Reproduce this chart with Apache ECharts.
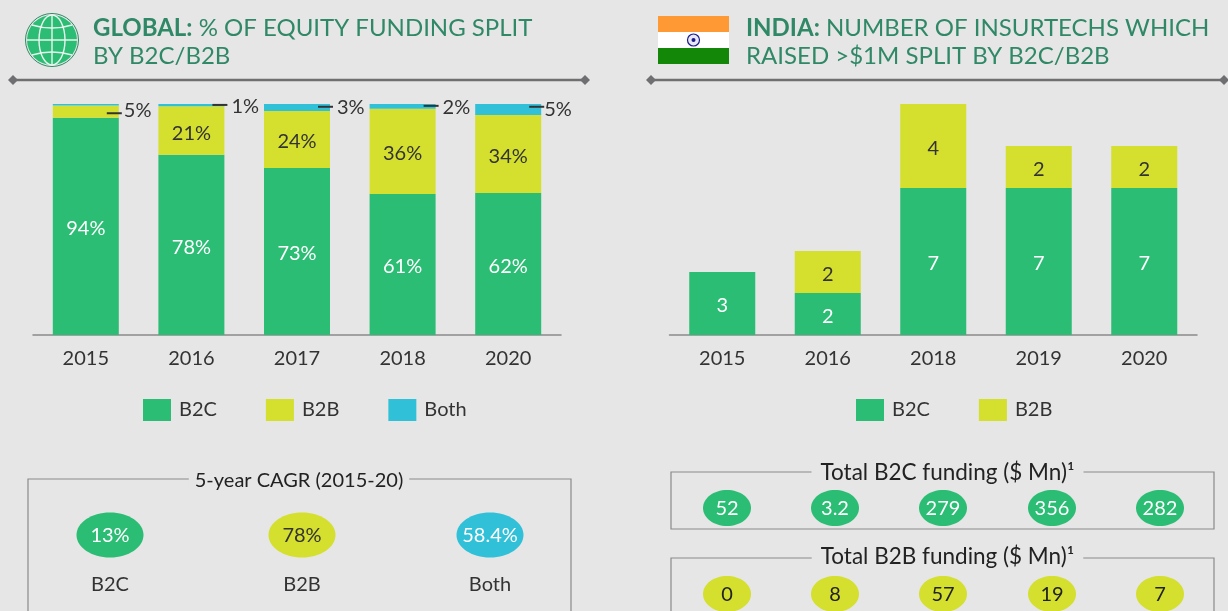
<!DOCTYPE html>
<html>
<head>
<meta charset="utf-8">
<title>Insurtech funding split</title>
<style>
html,body{margin:0;padding:0;background:#e6e6e6;}
#main{width:1228px;height:611px;}
</style>
<script src="https://cdn.jsdelivr.net/npm/echarts@6/dist/echarts.min.js"></script>
</head>
<body>
<div id="main"></div>
<script>
var GREEN = '#2bbd74', YELLOW = '#d4df2e', CYAN = '#30c1d9', DARK = '#333333', TITLE = '#2f8866', FONT = 'Lato';

// left chart
var globalYears = ['2015', '2016', '2017', '2018', '2020'];
var globalB2C = [94, 78, 72.3, 61, 61.5];
var globalB2B = [5.3, 21, 24.7, 36.9, 33.7];
var globalBoth = [0.7, 1, 3, 2.1, 4.8];
var globalB2CLabels = ['94%', '78%', '73%', '61%', '62%'];
var globalB2BLabels = ['', '21%', '24%', '36%', '34%'];
var calloutLabels = ['5%', '1%', '3%', '2%', '5%'];
var calloutLevels = [96, 99.6, 98.8, 99.2, 98.8];

// right chart
var indiaYears = ['2015', '2016', '2018', '2019', '2020'];
var indiaB2C = [3, 2, 7, 7, 7];
var indiaB2B = [0, 2, 4, 2, 2];

// bottom panels
var cagrNames = ['B2C', 'B2B', 'Both'];
var cagrValues = ['13%', '78%', '58.4%'];
var b2cFunding = ['52', '3.2', '279', '356', '282'];
var b2bFunding = ['0', '8', '57', '19', '7'];

function barLabel(color) {
  return { show: true, position: 'inside', offset: [0, 2.5], color: color, fontSize: 20, fontFamily: FONT };
}

function labelled(vals, labels) {
  return vals.map(function (v, i) {
    return { value: v, label: { formatter: labels[i] } };
  });
}

function divider(x1, x2, y) {
  return [
    { type: 'line', shape: { x1: x1, y1: y, x2: x2, y2: y }, style: { stroke: '#6f6f72', lineWidth: 2.5 } },
    { type: 'polygon', shape: { points: [[x1 - 5, y], [x1, y - 5], [x1 + 5, y], [x1, y + 5]] }, style: { fill: '#6f6f72' } },
    { type: 'polygon', shape: { points: [[x2 - 5, y], [x2, y - 5], [x2 + 5, y], [x2, y + 5]] }, style: { fill: '#6f6f72' } }
  ];
}

function pill(cx, cy, rx, ry, fill, text, color, size) {
  return [
    { type: 'ellipse', shape: { cx: cx, cy: cy, rx: rx, ry: ry }, style: { fill: fill } },
    { type: 'text', x: cx, y: cy + 1, style: { text: text, fill: color, font: size + 'px ' + FONT, align: 'center', verticalAlign: 'middle' } }
  ];
}

function panel(x, y, w, h, caption, captionX, captionY, size, pad) {
  return [
    { type: 'rect', shape: { x: x, y: y, width: w, height: h }, style: { fill: 'none', stroke: '#8a8a8a', lineWidth: 1.2 } },
    { type: 'text', x: captionX, y: captionY, style: { text: caption, fill: '#222', font: size + 'px ' + FONT, align: 'center', verticalAlign: 'middle', backgroundColor: '#e6e6e6', padding: [0, pad] } }
  ];
}

function globeIcon(cx, cy) {
  var white = { fill: 'none', stroke: '#e8f5ee', lineWidth: 1.4 };
  return [
    { type: 'circle', shape: { cx: cx, cy: cy, r: 26.5 }, style: { fill: '#e6e6e6', stroke: TITLE, lineWidth: 1 } },
    { type: 'circle', shape: { cx: cx, cy: cy, r: 25 }, style: { fill: GREEN } },
    { type: 'ellipse', shape: { cx: cx, cy: cy, rx: 13, ry: 25 }, style: white },
    { type: 'line', shape: { x1: cx, y1: cy - 25, x2: cx, y2: cy + 25 }, style: white },
    { type: 'line', shape: { x1: cx - 25, y1: cy, x2: cx + 25, y2: cy }, style: white },
    { type: 'arc', shape: { cx: cx, cy: cy - 80, r: 68, startAngle: Math.PI / 2 - 0.3, endAngle: Math.PI / 2 + 0.3 }, style: white },
    { type: 'arc', shape: { cx: cx, cy: cy + 80, r: 68, startAngle: 3 * Math.PI / 2 - 0.3, endAngle: 3 * Math.PI / 2 + 0.3 }, style: white }
  ];
}

function indiaFlag(x, y) {
  return [
    { type: 'rect', shape: { x: x, y: y, width: 71, height: 16 }, style: { fill: '#ff9933' } },
    { type: 'rect', shape: { x: x, y: y + 16, width: 71, height: 16 }, style: { fill: '#ffffff' } },
    { type: 'rect', shape: { x: x, y: y + 32, width: 71, height: 16 }, style: { fill: '#138808' } },
    { type: 'circle', shape: { cx: x + 35.5, cy: y + 24, r: 6 }, style: { fill: '#e8e8f5', stroke: '#1a1a8c', lineWidth: 1.2 } },
    { type: 'circle', shape: { cx: x + 35.5, cy: y + 24, r: 2 }, style: { fill: '#1a1a8c' } }
  ];
}

var gfx = [].concat(
  globeIcon(52, 40),
  indiaFlag(658, 16),
  divider(13, 585, 80),
  divider(651, 1224, 80),
  panel(28, 479, 543, 150, '5-year CAGR (2015-20)', 299, 481, 20, 6),
  panel(671, 472, 543, 57, 'Total B2C funding ($ Mn)¹', 947.5, 473, 22.5, 9),
  panel(671, 558, 543, 70, 'Total B2B funding ($ Mn)¹', 947.5, 557, 22.5, 9)
);

var cagrX = [110, 302, 490];
var cagrFill = [GREEN, YELLOW, CYAN];
var cagrText = ['#fff', DARK, '#fff'];
cagrValues.forEach(function (v, i) {
  gfx = gfx.concat(pill(cagrX[i], 535, 33.5, 22.5, cagrFill[i], v, cagrText[i], 20));
  gfx.push({ type: 'text', x: cagrX[i], y: 585, style: { text: cagrNames[i], fill: DARK, font: '20px ' + FONT, align: 'center', verticalAlign: 'middle' } });
});
var fundX = [727, 835, 943, 1052, 1160];
b2cFunding.forEach(function (v, i) {
  gfx = gfx.concat(pill(fundX[i], 508, 24, 18, GREEN, v, '#fff', 20));
});
b2bFunding.forEach(function (v, i) {
  gfx = gfx.concat(pill(fundX[i], 594, 24, 18, YELLOW, v, '#222', 20));
});

// short dash plus the value, sitting at the right of each bar
function renderCallout(params, api) {
  var p = api.coord([api.value(0), api.value(1)]);
  var idx = params.dataIndex;
  var textX = [38, 40, 40, 40, 36][idx];
  var textY = [-3, 2, 1, 2, 3][idx];
  return {
    type: 'group',
    children: [
      { type: 'line', shape: { x1: p[0] + 21, y1: p[1], x2: p[0] + 36, y2: p[1] }, style: { stroke: '#333', lineWidth: 2 } },
      { type: 'text', x: p[0] + textX, y: p[1] + textY, style: { text: calloutLabels[idx], fill: DARK, font: '20px ' + FONT, align: 'left', verticalAlign: 'middle' } }
    ]
  };
}

var titleStyle = {
  color: TITLE, fontSize: 24, fontWeight: 'normal', fontFamily: FONT, lineHeight: 28,
  rich: { b: { fontWeight: 'bold', fontSize: 24, color: TITLE, fontFamily: FONT, lineHeight: 28 } }
};

var chart = echarts.init(document.getElementById('main'), null, { renderer: 'canvas' });
chart.setOption({
  animation: false,
  backgroundColor: '#e6e6e6',
  textStyle: { fontFamily: FONT },
  title: [
    { left: 88, top: 9, text: '{b|GLOBAL:} % OF EQUITY FUNDING SPLIT\nBY B2C/B2B', textStyle: titleStyle },
    { left: 741, top: 9, text: '{b|INDIA:} NUMBER OF INSURTECHS WHICH\nRAISED >$1M SPLIT BY B2C/B2B', textStyle: titleStyle }
  ],
  legend: [
    {
      left: 138, top: 394, itemWidth: 28, itemHeight: 22, itemGap: 49, icon: 'rect',
      data: ['B2C', 'B2B', 'Both'],
      textStyle: { color: DARK, fontSize: 20, fontFamily: FONT, padding: [7, 0, 0, 3] }
    },
    {
      left: 851, top: 394, itemWidth: 28, itemHeight: 22, itemGap: 49, icon: 'rect',
      data: ['India B2C', 'India B2B'],
      formatter: function (n) { return n.replace('India ', ''); },
      textStyle: { color: DARK, fontSize: 20, fontFamily: FONT, padding: [7, 0, 0, 3] }
    }
  ],
  grid: [
    { left: 33, top: 104, width: 528, height: 231 },
    { left: 669.5, top: 104, width: 527.5, height: 231 }
  ],
  xAxis: [
    {
      type: 'category', gridIndex: 0, data: globalYears,
      axisTick: { show: false },
      axisLine: { lineStyle: { color: '#8a8a8a', width: 1.5 } },
      axisLabel: { color: DARK, fontSize: 20, margin: 14, fontFamily: FONT }
    },
    {
      type: 'category', gridIndex: 1, data: indiaYears,
      axisTick: { show: false },
      axisLine: { lineStyle: { color: '#8a8a8a', width: 1.5 } },
      axisLabel: { color: DARK, fontSize: 20, margin: 14, fontFamily: FONT }
    }
  ],
  yAxis: [
    { type: 'value', gridIndex: 0, min: 0, max: 100, show: false },
    { type: 'value', gridIndex: 1, min: 0, max: 11, show: false }
  ],
  graphic: gfx,
  series: [
    {
      name: 'B2C', type: 'bar', stack: 'g', barWidth: 66, xAxisIndex: 0, yAxisIndex: 0,
      itemStyle: { color: GREEN }, label: barLabel('#fff'),
      data: labelled(globalB2C, globalB2CLabels)
    },
    {
      name: 'B2B', type: 'bar', stack: 'g', barWidth: 66, xAxisIndex: 0, yAxisIndex: 0,
      itemStyle: { color: YELLOW }, label: barLabel(DARK),
      data: labelled(globalB2B, globalB2BLabels)
    },
    {
      name: 'Both', type: 'bar', stack: 'g', barWidth: 66, xAxisIndex: 0, yAxisIndex: 0,
      itemStyle: { color: CYAN },
      data: globalBoth
    },
    {
      type: 'custom', xAxisIndex: 0, yAxisIndex: 0, renderItem: renderCallout, silent: true, z: 5,
      data: calloutLevels.map(function (v, i) { return [i, v]; })
    },
    {
      name: 'India B2C', type: 'bar', stack: 'i', barWidth: 66, xAxisIndex: 1, yAxisIndex: 1,
      itemStyle: { color: GREEN }, label: barLabel('#fff'),
      data: indiaB2C
    },
    {
      name: 'India B2B', type: 'bar', stack: 'i', barWidth: 66, xAxisIndex: 1, yAxisIndex: 1,
      itemStyle: { color: YELLOW },
      label: Object.assign(barLabel(DARK), { formatter: function (p) { return p.value ? p.value : ''; } }),
      data: indiaB2B
    }
  ]
});
</script>
</body>
</html>
